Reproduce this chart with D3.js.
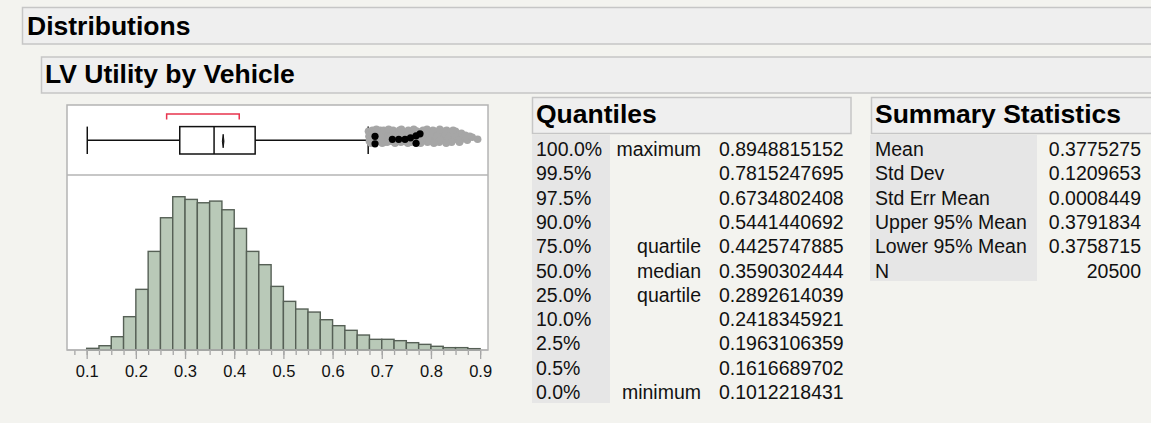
<!DOCTYPE html>
<html>
<head>
<meta charset="utf-8">
<script src="https://cdn.jsdelivr.net/npm/d3@7"></script>
<style>
  body { margin: 0; background: #f3f3ef; }
  svg { display: block; font-family: "Liberation Sans", Arial, Helvetica, sans-serif; }
  .major .tick text { font-size: 16.5px; fill: #111; }
</style>
</head>
<body>
<div id="chart"></div>
<script>
// histogram bins (lower edge, width 0.025) and counts
const binStarts = [0.1, 0.125, 0.15, 0.175, 0.2, 0.225, 0.25, 0.275, 0.3, 0.325, 0.35, 0.375,
    0.4, 0.425, 0.45, 0.475, 0.5, 0.525, 0.55, 0.575, 0.6, 0.625, 0.65, 0.675,
    0.7, 0.725, 0.75, 0.775, 0.8, 0.825, 0.85, 0.875];
const binCounts = [20, 51, 158, 396, 721, 1172, 1572, 1822, 1790, 1750, 1770, 1667,
    1445, 1172, 1014, 756, 578, 487, 451, 360, 289, 234, 178, 127,
    127, 111, 87, 67, 44, 28, 28, 16];
// selected rows shown darker at the foot of some bars
const selectedCounts = [0, 0, 0, 0, 0, 0, 0, 0, 0, 0, 0, 0,
    0, 0, 12, 12, 12, 12, 12, 12, 12, 12, 12, 12,
    12, 12, 12, 12, 0, 0, 0, 0];
const binWidth = 0.025;

const xTicks = [0.1, 0.2, 0.3, 0.4, 0.5, 0.6, 0.7, 0.8, 0.9];
const xMinorTicks = [0.075, 0.1, 0.125, 0.15, 0.175, 0.2, 0.225, 0.25, 0.275, 0.3, 0.325, 0.35,
    0.375, 0.4, 0.425, 0.45, 0.475, 0.5, 0.525, 0.55, 0.575, 0.6, 0.625, 0.65,
    0.675, 0.7, 0.725, 0.75, 0.775, 0.8, 0.825, 0.85, 0.875, 0.9];

const quantilePcts = ['100.0%', '99.5%', '97.5%', '90.0%', '75.0%', '50.0%', '25.0%', '10.0%', '2.5%', '0.5%', '0.0%'];
const quantileNames = ['maximum', '', '', '', 'quartile', 'median', 'quartile', '', '', '', 'minimum'];
const quantileValues = ['0.8948815152', '0.7815247695', '0.6734802408', '0.5441440692', '0.4425747885',
    '0.3590302444', '0.2892614039', '0.2418345921', '0.1963106359', '0.1616689702', '0.1012218431'];

const summaryLabels = ['Mean', 'Std Dev', 'Std Err Mean', 'Upper 95% Mean', 'Lower 95% Mean', 'N'];
const summaryValues = ['0.3775275', '0.1209653', '0.0008449', '0.3791834', '0.3758715', '20500'];

// box plot extras
const whiskerHigh = 0.6724;
const shortestHalf = [0.2626, 0.4102];
// outliers beyond the upper whisker: [value, jitter]
const outliersGray = [[0.673,-7],[0.674,-2],[0.675,3],[0.677,-5],[0.679,1],[0.681,-8],[0.683,4],[0.685,-3],
    [0.688,0],[0.690,-6],[0.692,3],[0.695,-2],[0.697,-8],[0.700,2],[0.702,-4],[0.705,4],[0.707,-7],[0.710,0],
    [0.712,-3],[0.715,3],[0.718,-6],[0.720,1],[0.723,-8],[0.726,4],[0.728,-2],[0.731,-5],[0.734,2],[0.736,-8],
    [0.739,4],[0.742,-1],[0.745,-6],[0.748,3],[0.751,-3],[0.754,-8],[0.757,1],[0.760,4],[0.763,-5],[0.766,-1],
    [0.769,3],[0.772,-7],[0.775,0],[0.778,4],[0.781,-4],[0.784,-8],[0.787,2],[0.790,-2],[0.793,4],[0.796,-6],
    [0.799,0],[0.802,-3],[0.805,3],[0.808,-7],[0.811,1],[0.814,-4],[0.817,4],[0.820,-1],[0.823,-6],[0.826,2],
    [0.829,-3],[0.832,-8],[0.835,3],[0.838,-1],[0.841,-5],[0.844,2],[0.847,-3],[0.850,-7],[0.853,1],[0.856,-2],
    [0.859,3],[0.862,-5],[0.866,0],[0.870,-3],[0.874,2],[0.879,-2],[0.884,-1],[0.8949,1],
    [0.676,0],[0.680,-4],[0.686,4],[0.693,-4],[0.699,-1],[0.704,-8],[0.711,4],[0.716,-1],[0.722,3],[0.730,0],
    [0.737,-3],[0.744,2],[0.752,4],[0.759,-4],[0.767,-8],[0.774,3],[0.782,0],[0.789,-6],[0.797,3],[0.804,-8],
    [0.812,-2],[0.819,2],[0.827,-7],[0.834,0],[0.842,4],[0.849,-4],
    [0.678,5],[0.689,-9],[0.701,5],[0.714,-9],[0.727,5],[0.740,-9],[0.753,5],[0.765,-9],[0.779,5],[0.792,-9],
    [0.806,5],[0.818,-9],[0.831,5],[0.845,-8],[0.858,4]];
const outliersSelected = [[0.6863,-4],[0.6863,3.5],[0.7215,-1],[0.7345,-1],[0.7473,-1],[0.7584,-2.5],
    [0.7697,-4.5],[0.7697,3],[0.7778,-6.5]];

const W = 1151, H = 423;
const svg = d3.select('#chart').append('svg')
    .attr('width', W)
    .attr('height', H);

svg.append('rect').attr('width', W).attr('height', H).attr('fill', '#f3f3ef');

// outline headers
svg.append('rect').attr('x', 22.5).attr('y', 7.5).attr('width', 1140).attr('height', 36.5)
    .attr('fill', '#efefef').attr('stroke', '#c6c6c6').attr('stroke-width', 1.5);
svg.append('text').attr('x', 27).attr('y', 34.5).attr('font-size', 26.5).attr('font-weight', 'bold')
    .attr('fill', '#000').text('Distributions');

svg.append('rect').attr('x', 41.5).attr('y', 57).attr('width', 1120).attr('height', 36)
    .attr('fill', '#efefef').attr('stroke', '#c6c6c6').attr('stroke-width', 1.5);
svg.append('text').attr('x', 45).attr('y', 83).attr('font-size', 26.5).attr('font-weight', 'bold')
    .attr('fill', '#000').text('LV Utility by Vehicle');

// plot frame
const frame = { left: 67, right: 488, top: 105, mid: 175, bottom: 350 };
const x = d3.scaleLinear().domain([0.06, 0.916]).range([frame.left, frame.right]);
const y = d3.scaleLinear().domain([0, 2080]).range([frame.bottom, frame.mid]);

svg.append('rect').attr('x', frame.left).attr('y', frame.top)
    .attr('width', frame.right - frame.left).attr('height', frame.bottom - frame.top)
    .attr('fill', '#fff').attr('stroke', '#b4b4b4').attr('stroke-width', 1.5);
svg.append('line').attr('x1', frame.left).attr('x2', frame.right)
    .attr('y1', frame.mid).attr('y2', frame.mid)
    .attr('stroke', '#b4b4b4').attr('stroke-width', 1.5);

// histogram
const bins = binStarts.map((b, i) => ({ x0: b, x1: b + binWidth, n: binCounts[i], sel: selectedCounts[i] }));
svg.append('g').selectAll('rect')
    .data(bins)
    .enter().append('rect')
    .attr('x', d => x(d.x0))
    .attr('y', d => y(d.n))
    .attr('width', d => x(d.x1) - x(d.x0))
    .attr('height', d => y(0) - y(d.n))
    .attr('fill', '#b9c9b8')
    .attr('stroke', '#566056')
    .attr('stroke-width', 1.4);
svg.append('g').selectAll('rect')
    .data(bins.filter(d => d.sel > 0))
    .enter().append('rect')
    .attr('x', d => x(d.x0) + 1)
    .attr('y', d => y(d.sel))
    .attr('width', d => x(d.x1) - x(d.x0) - 2)
    .attr('height', d => y(0) - y(d.sel))
    .attr('fill', '#5b745b');

// axis
const axisG = svg.append('g').attr('transform', `translate(0,${frame.bottom})`);
axisG.call(d3.axisBottom(x).tickValues(xMinorTicks).tickSize(5).tickFormat(''));
axisG.call(g => g.select('.domain').remove());
const majorG = svg.append('g').attr('class', 'major').attr('transform', `translate(0,${frame.bottom})`)
    .call(d3.axisBottom(x).tickValues(xTicks).tickSize(9).tickPadding(6).tickFormat(d3.format('.1f')));
majorG.select('.domain').remove();
majorG.attr('font-size', null).attr('font-family', null);
svg.selectAll('.tick line').attr('stroke', '#a6a6a6').attr('stroke-width', 1.3);
svg.append('line').attr('x1', frame.left).attr('x2', frame.right)
    .attr('y1', frame.bottom).attr('y2', frame.bottom)
    .attr('stroke', '#b4b4b4').attr('stroke-width', 1.5);

// box plot
const q = v => +v;
const q3 = q(quantileValues[4]), med = q(quantileValues[5]),
    q1 = q(quantileValues[6]), qMin = q(quantileValues[10]);
const mean = +summaryValues[0], meanHi = +summaryValues[3], meanLo = +summaryValues[4];
const cy = 140.3, bh = 13.7;
const box = svg.append('g').attr('stroke', '#111').attr('stroke-width', 1.5).attr('fill', 'none');
box.append('line').attr('x1', x(qMin)).attr('x2', x(q1)).attr('y1', cy).attr('y2', cy);
box.append('line').attr('x1', x(q3)).attr('x2', x(whiskerHigh)).attr('y1', cy).attr('y2', cy);
box.append('line').attr('x1', x(qMin)).attr('x2', x(qMin)).attr('y1', cy - bh).attr('y2', cy + bh);
box.append('line').attr('x1', x(whiskerHigh)).attr('x2', x(whiskerHigh)).attr('y1', cy - bh).attr('y2', cy + bh);
box.append('rect').attr('x', x(q1)).attr('y', cy - bh).attr('width', x(q3) - x(q1)).attr('height', 2 * bh);
box.append('line').attr('x1', x(med)).attr('x2', x(med)).attr('y1', cy - bh).attr('y2', cy + bh);
box.append('polygon')
    .attr('points', [[x(meanLo), cy + 1], [x(mean), cy - 6], [x(meanHi), cy + 1], [x(mean), cy + 7.5]].join(' '))
    .attr('fill', '#111').attr('stroke-width', 1);

// shortest half bracket
svg.append('path')
    .attr('d', `M${x(shortestHalf[0])},119.5 V114 H${x(shortestHalf[1])} V119.5`)
    .attr('fill', 'none').attr('stroke', '#e8344e').attr('stroke-width', 1.5);

// outliers
svg.append('g').selectAll('circle')
    .data(outliersGray)
    .enter().append('circle')
    .attr('cx', d => x(d[0]))
    .attr('cy', d => cy + d[1] - 2)
    .attr('r', 3.8)
    .attr('fill', '#a6a6a6');
svg.append('g').selectAll('circle')
    .data(outliersSelected)
    .enter().append('circle')
    .attr('cx', d => x(d[0]))
    .attr('cy', d => cy + d[1])
    .attr('r', 3.6)
    .attr('fill', '#000');

// Quantiles table
const rowY = i => 156 + i * 24.3;
svg.append('rect').attr('x', 532.5).attr('y', 97.5).attr('width', 318.5).attr('height', 36)
    .attr('fill', '#efefef').attr('stroke', '#c6c6c6').attr('stroke-width', 1.5);
svg.append('text').attr('x', 536).attr('y', 123).attr('font-size', 26.5).attr('font-weight', 'bold')
    .attr('fill', '#000').text('Quantiles');
svg.append('rect').attr('x', 532).attr('y', 135).attr('width', 78).attr('height', 268).attr('fill', '#e6e6e6');
const qt = svg.append('g').attr('font-size', 19.5).attr('fill', '#111');
qt.selectAll('.pct').data(quantilePcts).enter().append('text')
    .attr('x', 536).attr('y', (d, i) => rowY(i)).text(d => d);
qt.selectAll('.nm').data(quantileNames).enter().append('text')
    .attr('x', 701).attr('y', (d, i) => rowY(i)).attr('text-anchor', 'end').text(d => d);
qt.selectAll('.val').data(quantileValues).enter().append('text')
    .attr('x', 719).attr('y', (d, i) => rowY(i)).text(d => d);

// Summary Statistics table
svg.append('rect').attr('x', 871.5).attr('y', 97.5).attr('width', 300).attr('height', 36)
    .attr('fill', '#efefef').attr('stroke', '#c6c6c6').attr('stroke-width', 1.5);
svg.append('text').attr('x', 875).attr('y', 123).attr('font-size', 26.5).attr('font-weight', 'bold')
    .attr('fill', '#000').text('Summary Statistics');
svg.append('rect').attr('x', 870).attr('y', 135).attr('width', 167).attr('height', 146).attr('fill', '#e6e6e6');
const st = svg.append('g').attr('font-size', 19.5).attr('fill', '#111');
st.selectAll('.lab').data(summaryLabels).enter().append('text')
    .attr('x', 875).attr('y', (d, i) => rowY(i)).text(d => d);
st.selectAll('.val').data(summaryValues).enter().append('text')
    .attr('x', 1141).attr('y', (d, i) => rowY(i)).attr('text-anchor', 'end').text(d => d);
</script>
</body>
</html>
